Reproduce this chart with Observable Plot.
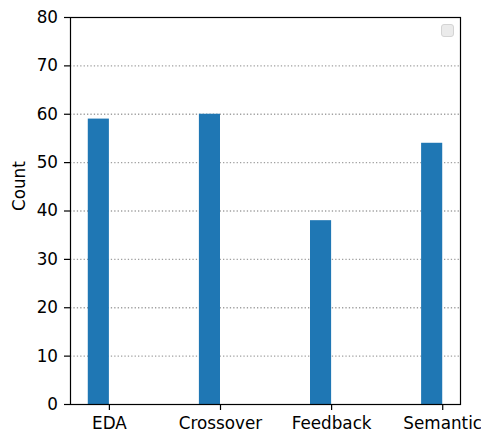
<!DOCTYPE html>
<html><head><meta charset="utf-8">
<script src="https://cdn.jsdelivr.net/npm/d3@7"></script>
<script src="https://cdn.jsdelivr.net/npm/@observablehq/plot@0.6"></script>
<style>
html,body{margin:0;padding:0;background:#fff;overflow:hidden;}
#wrap{position:relative;width:481px;height:432px;}
#legend{position:absolute;left:441px;top:24px;width:13px;height:13px;background:#ebebeb;border:1px solid #d4d4d4;border-radius:3px;box-sizing:border-box;}
</style></head><body>
<div id="wrap"><div id="legend"></div></div>
<script>
const categories = ["EDA", "Crossover", "Feedback", "Semantic"];
const counts = [59, 60, 38, 54];
const yTicks = [0, 10, 20, 30, 40, 50, 60, 70, 80];
const gridTicks = [10, 20, 30, 40, 50, 60, 70];
const yLabel = "Count";

const data = categories.map((c, i) => ({cat: c, i, count: counts[i]}));
const barWidth = 0.19;
const fs = 16.8;

const chart = Plot.plot({
  width: 481, height: 432,
  marginLeft: 70, marginRight: 21, marginTop: 17, marginBottom: 28,
  style: {fontFamily: "DejaVu Sans", fontSize: fs + "px", color: "#000", background: "#fff", overflow: "visible"},
  x: {domain: [-0.35, 3.16]},
  y: {domain: [0, 80]},
  marks: [
    Plot.gridY(gridTicks, {stroke: "#a0a0a0", strokeOpacity: 1, strokeDasharray: "1.3,2.1", strokeWidth: 1.3}),
    Plot.rect(data, {x1: d => d.i - barWidth, x2: d => d.i, y1: 0, y2: "count", fill: "#1f77b4"}),
    Plot.frame({stroke: "#000", strokeWidth: 1.2}),
    Plot.axisX(d3.range(categories.length), {tickFormat: i => categories[i], tickSize: 6, tickPadding: 7, strokeWidth: 1.2, label: null, fontSize: fs}),
    Plot.axisY(yTicks, {tickSize: 6, tickPadding: 6.5, strokeWidth: 1.2, label: null, fontSize: fs}),
    Plot.text([yLabel], {frameAnchor: "left", text: d => d, rotate: -90, dx: -51, fontSize: fs, fill: "#000"})
  ]
});
document.getElementById("wrap").insertBefore(chart, document.getElementById("legend"));
</script>
</body></html>
